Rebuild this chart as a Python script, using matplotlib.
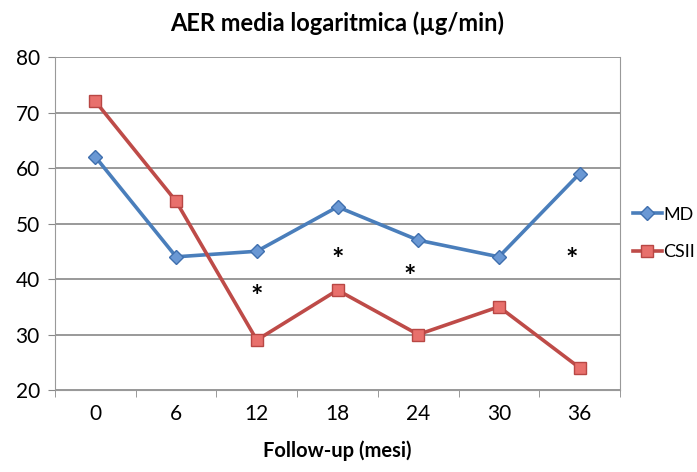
import matplotlib.pyplot as plt
from matplotlib.ticker import FixedLocator

# dati
mesi = ['0', '6', '12', '18', '24', '30', '36']
md = [62, 44, 45, 53, 47, 44, 59]
csii = [72, 54, 29, 38, 30, 35, 24]
# asterischi di significativita (posizione categoria, valore)
ast_x = [2, 3, 3.9, 5.9]
ast_y = [36.8, 43.4, 40.4, 43.4]

plt.rcParams['font.family'] = ['Lato', 'DejaVu Sans']

fig = plt.figure(figsize=(6.97, 4.72), dpi=100)
ax = fig.add_axes([0.079, 0.1737, 0.8105, 0.7055])

x = list(range(len(mesi)))
ax.plot(x, md, c='#4A7EBB', lw=2.6, marker='D', ms=7,
        mfc='#6A98D4', mec='#3F6FAE', mew=1, label='MD', zorder=3)
ax.plot(x, csii, c='#BE4B48', lw=2.6, marker='s', ms=9,
        mfc='#E8706C', mec='#B84744', mew=1, label='CSII', zorder=3)

for xa, ya in zip(ast_x, ast_y):
    ax.text(xa, ya, '*', ha='center', va='center', fontsize=21,
            fontweight='bold', color='black')

ax.set_xlim(-0.5, len(mesi) - 0.5)
ax.set_ylim(20, 80)
ax.set_yticks(range(20, 81, 10))
ax.set_xticks(x)
ax.set_xticklabels(mesi)
ax.xaxis.set_minor_locator(FixedLocator([i - 0.5 for i in range(len(mesi) + 1)]))
ax.tick_params(axis='x', which='major', length=0, pad=10, labelsize=15)
ax.tick_params(axis='x', which='minor', length=5, color='#888888')
ax.tick_params(axis='y', length=5, color='#888888', labelsize=15, pad=6)

ax.grid(axis='y', color='#888888', lw=1.2)
ax.set_axisbelow(True)
for s in ['left', 'bottom', 'right']:
    ax.spines[s].set_color('#999999')
    ax.spines[s].set_linewidth(0.8)
ax.spines['top'].set_visible(False)

ax.set_title('AER media logaritmica (µg/min)', fontsize=17, fontweight='bold', pad=19)
ax.set_xlabel('Follow-up (mesi)', fontsize=14.5, fontweight='bold', labelpad=12)

ax.legend(loc='center left', bbox_to_anchor=(1.0, 0.47), frameon=False,
          fontsize=13, handlelength=1.6, handletextpad=0.1,
          labelspacing=1.2, borderaxespad=0.3)

fig.savefig('out.png', dpi=100)
